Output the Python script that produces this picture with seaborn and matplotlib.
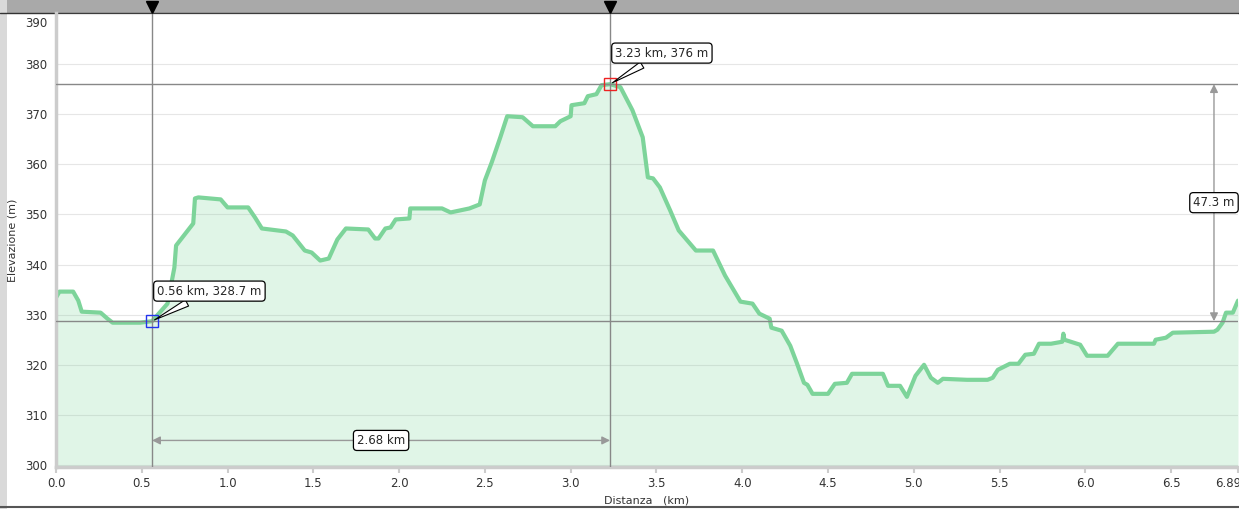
import numpy as np
import pandas as pd
import matplotlib
matplotlib.use("Agg")
import matplotlib.pyplot as plt
import matplotlib.transforms as mtransforms
from matplotlib.patches import Rectangle
import seaborn as sns

# --- elevation profile ---
distance_km = [0.0, 0.02, 0.10, 0.13, 0.15, 0.26, 0.30, 0.33, 0.49, 0.56,
               0.65, 0.69, 0.70, 0.80, 0.81, 0.83, 0.96, 1.00, 1.12, 1.16,
               1.20, 1.34, 1.38, 1.45, 1.49, 1.54, 1.59, 1.64, 1.69, 1.82,
               1.86, 1.88, 1.92, 1.95, 1.98, 2.06, 2.065, 2.25, 2.30, 2.41,
               2.47, 2.50, 2.54, 2.59, 2.63, 2.72, 2.78, 2.91, 2.94, 3.00,
               3.005, 3.08, 3.10, 3.15, 3.18, 3.23, 3.29, 3.36, 3.42, 3.45,
               3.48, 3.52, 3.58, 3.63, 3.67, 3.73, 3.83, 3.90, 3.99, 4.06,
               4.10, 4.16, 4.17, 4.23, 4.28, 4.32, 4.36, 4.38, 4.41, 4.50,
               4.54, 4.61, 4.64, 4.82, 4.85, 4.92, 4.96, 5.01, 5.06, 5.10,
               5.14, 5.17, 5.31, 5.43, 5.46, 5.49, 5.56, 5.61, 5.65, 5.70,
               5.73, 5.80, 5.866, 5.872, 5.878, 5.97, 6.01, 6.13, 6.19, 6.40,
               6.41, 6.47, 6.51, 6.75, 6.77, 6.80, 6.82, 6.86, 6.89]
elevation_m = [333.4, 334.6, 334.6, 332.8, 330.6, 330.4, 329.2, 328.4, 328.4, 328.7,
               332.2, 339.4, 343.8, 348.2, 353.2, 353.4, 353.0, 351.4, 351.4, 349.4,
               347.2, 346.6, 345.8, 342.8, 342.4, 340.8, 341.2, 345.0, 347.2, 347.0,
               345.2, 345.2, 347.2, 347.4, 349.0, 349.2, 351.2, 351.2, 350.4, 351.2,
               352.0, 356.8, 360.4, 365.4, 369.6, 369.4, 367.6, 367.6, 368.6, 369.6,
               371.8, 372.2, 373.6, 374.0, 375.8, 376.0, 375.4, 370.8, 365.4, 357.4,
               357.2, 355.4, 350.8, 346.8, 345.2, 342.8, 342.8, 337.8, 332.6, 332.2,
               330.2, 329.2, 327.4, 326.8, 323.8, 320.2, 316.4, 316.0, 314.2, 314.2,
               316.2, 316.4, 318.2, 318.2, 315.8, 315.8, 313.6, 317.8, 320.0, 317.4,
               316.4, 317.2, 317.0, 317.0, 317.4, 319.0, 320.2, 320.2, 322.0, 322.2,
               324.2, 324.2, 324.6, 326.2, 325.0, 324.0, 321.8, 321.8, 324.2, 324.2,
               325.0, 325.4, 326.4, 326.6, 327.0, 328.4, 330.4, 330.4, 332.8]

# selected points (A = start marker, B = peak marker)
point_a = (0.56, 328.7)
point_b = (3.23, 376.0)
label_a = "0.56 km, 328.7 m"
label_b = "3.23 km, 376 m"
dist_label = "2.68 km"
climb_label = "47.3 m"
climb_x = 6.75

y_ticks = [300, 310, 320, 330, 340, 350, 360, 370, 380, 390]
x_ticks = [0.0, 0.5, 1.0, 1.5, 2.0, 2.5, 3.0, 3.5, 4.0, 4.5, 5.0, 5.5, 6.0, 6.5, 6.89]
x_tick_labels = ["0.0", "0.5", "1.0", "1.5", "2.0", "2.5", "3.0", "3.5", "4.0",
                 "4.5", "5.0", "5.5", "6.0", "6.5", "6.89"]

df = pd.DataFrame({"km": distance_km, "elev": elevation_m})

sns.set_style("white")
plt.rcParams["font.family"] = ["DejaVu Sans"]

line_col = "#7dd49a"
fig = plt.figure(figsize=(12.39, 5.09), dpi=100)
ax = fig.add_axes([56 / 1239, 42 / 509, 1182 / 1239, 454 / 509])
ax.patch.set_alpha(0)

# window chrome: grey bar on top, strip on the left, frame at the bottom
fig.patches.append(Rectangle((0, 496 / 509), 1, 13 / 509, transform=fig.transFigure,
                             facecolor="#a9a9a9", edgecolor="none", zorder=-2))
fig.lines.append(plt.Line2D([0, 1], [496.5 / 509, 496.5 / 509], transform=fig.transFigure,
                            color="#333333", lw=1, zorder=-1))
fig.patches.append(Rectangle((0, 0), 7 / 1239, 1, transform=fig.transFigure,
                             facecolor="#d9d9d9", edgecolor="none", zorder=-2))
fig.lines.append(plt.Line2D([0, 1], [2 / 509, 2 / 509], transform=fig.transFigure,
                            color="#555555", lw=1.5, zorder=-1))

ax.set_axisbelow(True)
ax.grid(axis="y", color="#e6e6e6", lw=0.8)
ax.fill_between(df["km"], df["elev"], 290, color=line_col, alpha=0.23, lw=0, zorder=1)
sns.lineplot(data=df, x="km", y="elev", ax=ax, color=line_col, lw=3, zorder=2,
             estimator=None, sort=False)

ax.set_xlim(0, 6.89)
ax.set_ylim(299.6, 390.2)

# crosshair lines + triangles in the top bar
bar_shift = ax.get_xaxis_transform() + mtransforms.ScaledTranslation(0, 6 / 100, fig.dpi_scale_trans)
for px, py in (point_a, point_b):
    ax.axvline(px, color="#888888", lw=1, zorder=3)
    ax.axhline(py, color="#888888", lw=1, zorder=3)
    ax.plot([px], [1.0], marker="v", color="black", ms=9, clip_on=False,
            transform=bar_shift, zorder=6)

ax.plot(*point_a, marker="s", ms=8, mfc="none", mec="#2233ee", mew=1, zorder=5)
ax.plot(*point_b, marker="s", ms=8, mfc="none", mec="#ee2222", mew=1, zorder=5)

bubble = dict(boxstyle="round,pad=0.3,rounding_size=0.3", fc="white", ec="black", lw=0.9)
wedge = dict(arrowstyle="wedge,tail_width=0.6", fc="white", ec="black", lw=0.8)
ax.annotate(label_a, xy=point_a, xytext=(0.59, 334.7), fontsize=8.5, bbox=bubble,
            arrowprops=wedge, ha="left", va="center", zorder=7)
ax.annotate(label_b, xy=point_b, xytext=(3.26, 382.2), fontsize=8.5, bbox=bubble,
            arrowprops=wedge, ha="left", va="center", zorder=7)

# distance and climb arrows
arrow = dict(arrowstyle="<|-|>", color="#999999", lw=1, mutation_scale=12,
             shrinkA=0, shrinkB=0)
ax.annotate("", xy=(point_a[0], 304.9), xytext=(point_b[0], 304.9), arrowprops=arrow, zorder=4)
ax.text((point_a[0] + point_b[0]) / 2, 304.9, dist_label, fontsize=8.5, ha="center",
        va="center", bbox=bubble, zorder=7)
ax.annotate("", xy=(climb_x, point_a[1]), xytext=(climb_x, point_b[1]), arrowprops=arrow, zorder=4)
ax.text(climb_x, (point_a[1] + point_b[1]) / 2, climb_label, fontsize=8.5, ha="center",
        va="center", bbox=bubble, zorder=7)

ax.set_yticks(y_ticks)
ax.set_xticks(x_ticks)
ax.set_xticklabels(x_tick_labels)
ax.tick_params(axis="both", labelsize=8.5, labelcolor="#333333")
ax.tick_params(axis="x", bottom=True, length=4, width=1.5, color="#cccccc", pad=3)
ax.tick_params(axis="y", left=False, pad=3)
# the top label sits a bit lower, like in the original viewer
top_lab = ax.get_yticklabels()[-1]
top_lab.set_transform(top_lab.get_transform() +
                      mtransforms.ScaledTranslation(0, -8 / 100, fig.dpi_scale_trans))
# last x label pulled left so it stays on the canvas
last_lab = ax.get_xticklabels()[-1]
last_lab.set_transform(last_lab.get_transform() +
                       mtransforms.ScaledTranslation(-10 / 100, 0, fig.dpi_scale_trans))

for side in ("top", "right"):
    ax.spines[side].set_visible(False)
for side in ("left", "bottom"):
    ax.spines[side].set_color("#cccccc")
    ax.spines[side].set_linewidth(2.5)

ax.set_xlabel("Distanza   (km)", fontsize=8, color="#333333", labelpad=4)
ax.set_ylabel("Elevazione (m)", fontsize=8, color="#333333", labelpad=5)

fig.savefig("out.png", dpi=100)
